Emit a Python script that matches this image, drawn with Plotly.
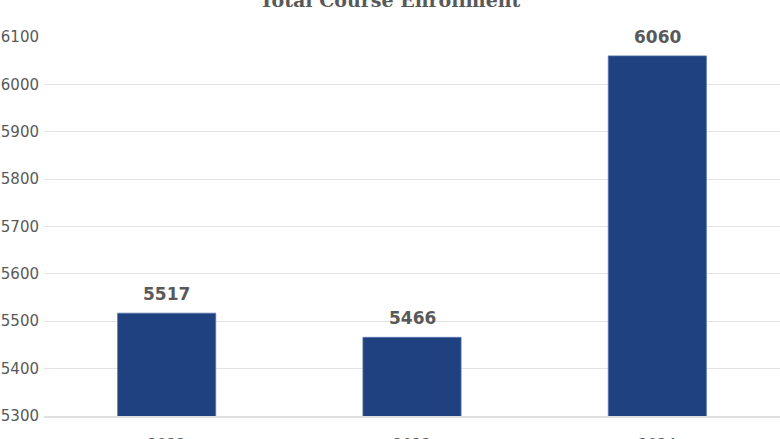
import plotly.graph_objects as go

years = ["2022", "2023", "2024"]
enrollment = [5517, 5466, 6060]
y_ticks = [5300, 5400, 5500, 5600, 5700, 5800, 5900, 6000, 6100]

bar_color = "#1f4180"
text_color = "#595959"

fig = go.Figure()
fig.add_trace(go.Bar(
    x=years, y=enrollment, width=0.4,
    marker=dict(color=bar_color, line=dict(color="#5574ad", width=0.8)),
    hoverinfo="x+y",
))

for i, v in enumerate(enrollment):
    fig.add_annotation(
        x=i, y=v, text=f"<b>{v}</b>", showarrow=False,
        yanchor="bottom", yshift=7,
        font=dict(family="DejaVu Sans", size=17, color=text_color),
    )

fig.update_layout(
    width=780, height=439,
    margin=dict(l=44, r=0, t=36, b=23),
    paper_bgcolor="white", plot_bgcolor="white",
    showlegend=False,
    title=dict(
        text="<b>Total Course Enrollment</b>",
        x=0.5, xref="container", xanchor="center",
        y=1, yref="container", yanchor="middle",
        font=dict(family="DejaVu Serif", size=19, color=text_color),
    ),
    xaxis=dict(
        type="category",
        range=[-0.5, 2.5],
        automargin=False,
        showgrid=False,
        showline=True, linecolor="#e0e0e0", linewidth=2,
        ticks="", ticklabelstandoff=14,
        tickfont=dict(family="DejaVu Sans", size=15, color=text_color),
    ),
    yaxis=dict(
        range=[5300, 6102],
        tickvals=y_ticks,
        automargin=False,
        showgrid=True, gridcolor="#e3e3e3", gridwidth=1,
        zeroline=False, showline=False,
        ticks="", ticklabelstandoff=4,
        tickfont=dict(family="DejaVu Sans", size=15, color=text_color),
    ),
)

post = (
    "document.documentElement.style.margin='0';"
    "document.body.style.margin='0';"
    "document.body.style.overflow='hidden';"
    "var gd=document.getElementById('{plot_id}');"
    "Plotly.relayout(gd,{width:780,height:439});"
)
fig.write_html("out.html", post_script=post, config={"displayModeBar": False})
